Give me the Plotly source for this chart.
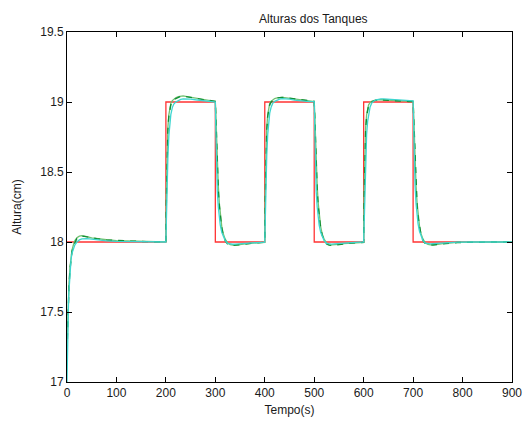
import plotly.graph_objects as go

# Time grid (s)
t = [0, 0.5, 1, 2, 3, 4, 6, 8, 10, 13, 16, 20, 25, 30, 35, 40, 50, 60, 80, 100, 130, 160,
     200, 201, 202, 203, 204, 206, 208, 210, 213, 216, 220, 225, 230, 235, 240, 250, 260, 275, 290,
     300, 301, 302, 303, 304, 306, 308, 310, 313, 316, 320, 325, 330, 335, 340, 350, 360, 375, 390,
     400, 401, 402, 403, 404, 406, 408, 410, 413, 416, 420, 425, 430, 435, 440, 450, 460, 475, 490,
     500, 501, 502, 503, 504, 506, 508, 510, 513, 516, 520, 525, 530, 535, 540, 550, 560, 575, 590,
     600, 601, 602, 603, 604, 606, 608, 610, 613, 616, 620, 625, 630, 635, 640, 650, 660, 675, 690,
     700, 701, 702, 703, 704, 706, 708, 710, 713, 716, 720, 725, 730, 735, 740, 750, 760, 775, 790, 820, 860, 900]

h_cyan = [17.0, 17.15, 17.28, 17.45, 17.56, 17.65, 17.79, 17.87, 17.92, 17.955, 17.98, 18.0, 18.015, 18.022, 18.025, 18.024, 18.02, 18.015, 18.008, 18.004, 18.002, 18.0,
          18.0, 18.15, 18.33, 18.48, 18.6, 18.76, 18.85, 18.91, 18.96, 18.985, 19.0, 19.012, 19.018, 19.022, 19.023, 19.021, 19.016, 19.008, 19.003,
          19.0, 18.8, 18.6, 18.45, 18.36, 18.25, 18.18, 18.12, 18.07, 18.04, 18.01, 17.99, 17.985, 17.984, 17.985, 17.988, 17.992, 17.996, 17.999,
          17.999, 18.15, 18.35, 18.5, 18.62, 18.77, 18.86, 18.92, 18.965, 18.99, 19.005, 19.015, 19.021, 19.024, 19.024, 19.02, 19.014, 19.007, 19.003,
          19.002, 18.8, 18.6, 18.45, 18.36, 18.25, 18.18, 18.12, 18.07, 18.04, 18.01, 17.99, 17.986, 17.985, 17.986, 17.989, 17.993, 17.997, 17.999,
          17.999, 18.15, 18.35, 18.5, 18.62, 18.77, 18.86, 18.92, 18.965, 18.99, 19.006, 19.016, 19.02, 19.022, 19.022, 19.019, 19.015, 19.011, 19.009,
          19.008, 18.85, 18.65, 18.5, 18.4, 18.27, 18.19, 18.13, 18.075, 18.04, 18.01, 17.992, 17.988, 17.987, 17.988, 17.99, 17.993, 17.997, 17.999, 18.0, 18.0, 18.0]

h_green = [17.22, 17.3, 17.38, 17.5, 17.6, 17.68, 17.8, 17.88, 17.93, 17.97, 18.0, 18.025, 18.038, 18.042, 18.04, 18.036, 18.03, 18.024, 18.015, 18.01, 18.006, 18.003,
           18.001, 18.3, 18.55, 18.7, 18.8, 18.9, 18.95, 18.98, 19.0, 19.015, 19.025, 19.035, 19.04, 19.042, 19.04, 19.035, 19.027, 19.017, 19.008,
           19.005, 18.9, 18.75, 18.62, 18.52, 18.37, 18.26, 18.18, 18.1, 18.05, 18.01, 17.985, 17.977, 17.975, 17.976, 17.98, 17.985, 17.991, 17.996,
           17.998, 18.3, 18.55, 18.7, 18.8, 18.9, 18.95, 18.98, 19.0, 19.012, 19.022, 19.029, 19.032, 19.033, 19.032, 19.027, 19.02, 19.012, 19.006,
           19.004, 18.9, 18.75, 18.62, 18.52, 18.37, 18.26, 18.18, 18.1, 18.05, 18.01, 17.986, 17.978, 17.976, 17.977, 17.981, 17.986, 17.992, 17.996,
           17.997, 18.3, 18.55, 18.7, 18.8, 18.9, 18.95, 18.975, 18.99, 19.0, 19.008, 19.013, 19.015, 19.015, 19.014, 19.012, 19.009, 19.006, 19.004,
           19.004, 18.9, 18.75, 18.62, 18.52, 18.37, 18.26, 18.18, 18.1, 18.05, 18.01, 17.987, 17.98, 17.978, 17.979, 17.982, 17.987, 17.992, 17.996, 17.999, 18.0, 18.0]

h_lgreen = [17.25, 17.33, 17.42, 17.53, 17.63, 17.7, 17.82, 17.9, 17.94, 17.98, 18.01, 18.03, 18.042, 18.045, 18.043, 18.038, 18.03, 18.024, 18.016, 18.01, 18.006, 18.003,
            18.001, 18.35, 18.6, 18.73, 18.82, 18.91, 18.96, 18.99, 19.01, 19.02, 19.03, 19.038, 19.042, 19.043, 19.04, 19.034, 19.026, 19.016, 19.007,
            19.004, 18.92, 18.78, 18.65, 18.55, 18.4, 18.28, 18.2, 18.11, 18.06, 18.02, 17.992, 17.981, 17.978, 17.978, 17.982, 17.987, 17.993, 17.997,
            17.998, 18.35, 18.6, 18.73, 18.82, 18.91, 18.96, 18.99, 19.005, 19.016, 19.025, 19.03, 19.033, 19.033, 19.031, 19.026, 19.019, 19.011, 19.005,
            19.003, 18.92, 18.78, 18.65, 18.55, 18.4, 18.28, 18.2, 18.11, 18.06, 18.02, 17.992, 17.982, 17.979, 17.979, 17.983, 17.988, 17.993, 17.997,
            17.997, 18.35, 18.6, 18.73, 18.82, 18.91, 18.955, 18.98, 18.995, 19.005, 19.01, 19.014, 19.016, 19.016, 19.015, 19.012, 19.009, 19.006, 19.004,
            19.004, 18.92, 18.78, 18.65, 18.55, 18.4, 18.28, 18.2, 18.11, 18.06, 18.02, 17.992, 17.983, 17.98, 17.98, 17.983, 17.988, 17.993, 17.997, 17.999, 18.0, 18.0]

# Reference (setpoint) steps
t_ref = [0, 200, 300, 400, 500, 600, 700, 900]
h_ref = [18, 19, 18, 19, 18, 19, 18, 18]

x_ticks = [0, 100, 200, 300, 400, 500, 600, 700, 800, 900]
y_ticks = [17, 17.5, 18, 18.5, 19, 19.5]
y_labels = ["17", "17.5", "18", "18.5", "19", "19.5"]

FONT = "Liberation Sans, Arial"
TXT = "#1a1a1a"

fig = go.Figure()
fig.add_trace(go.Scatter(x=t_ref, y=h_ref, mode="lines", line=dict(color="#ff3333", width=1.3, shape="hv"), showlegend=False))
fig.add_trace(go.Scatter(x=t, y=h_lgreen, mode="lines", line=dict(color="#72c272", width=1.3), showlegend=False))
fig.add_trace(go.Scatter(x=t, y=h_green, mode="lines", line=dict(color="#138f36", width=1.4, dash="6px,6px"), showlegend=False))
fig.add_trace(go.Scatter(x=t, y=h_cyan, mode="lines", line=dict(color="#3ed6d0", width=1.3), showlegend=False))

axis_common = dict(showline=True, linecolor="black", linewidth=1, mirror="ticks", ticks="inside",
                   ticklen=5, tickcolor="black", showgrid=False, zeroline=False, automargin=False,
                   tickfont=dict(family=FONT, size=12, color=TXT))

fig.update_layout(
    width=523, height=421,
    margin=dict(l=67, r=11, t=32, b=39),
    paper_bgcolor="white", plot_bgcolor="white",
    hovermode=False,
    title=dict(text="Alturas dos Tanques", x=0.5535, xanchor="center", xref="paper",
               y=0.955, yref="container", yanchor="middle", automargin=False,
               font=dict(family=FONT, size=12, color=TXT)),
    xaxis=dict(range=[0, 900], tickvals=x_ticks,
               title=dict(text="Tempo(s)", standoff=6, font=dict(family=FONT, size=12, color=TXT)),
               **axis_common),
    yaxis=dict(range=[17, 19.5], tickvals=y_ticks, ticktext=y_labels,
               title=dict(text="Altura(cm)", standoff=16, font=dict(family=FONT, size=12, color=TXT)),
               **axis_common),
)

# Remove the default page margin so the figure fills the 523x421 window exactly.
fig.write_html("out.html",
               config={"displayModeBar": False},
               post_script="document.body.style.margin='0px';document.body.style.overflow='hidden';")
